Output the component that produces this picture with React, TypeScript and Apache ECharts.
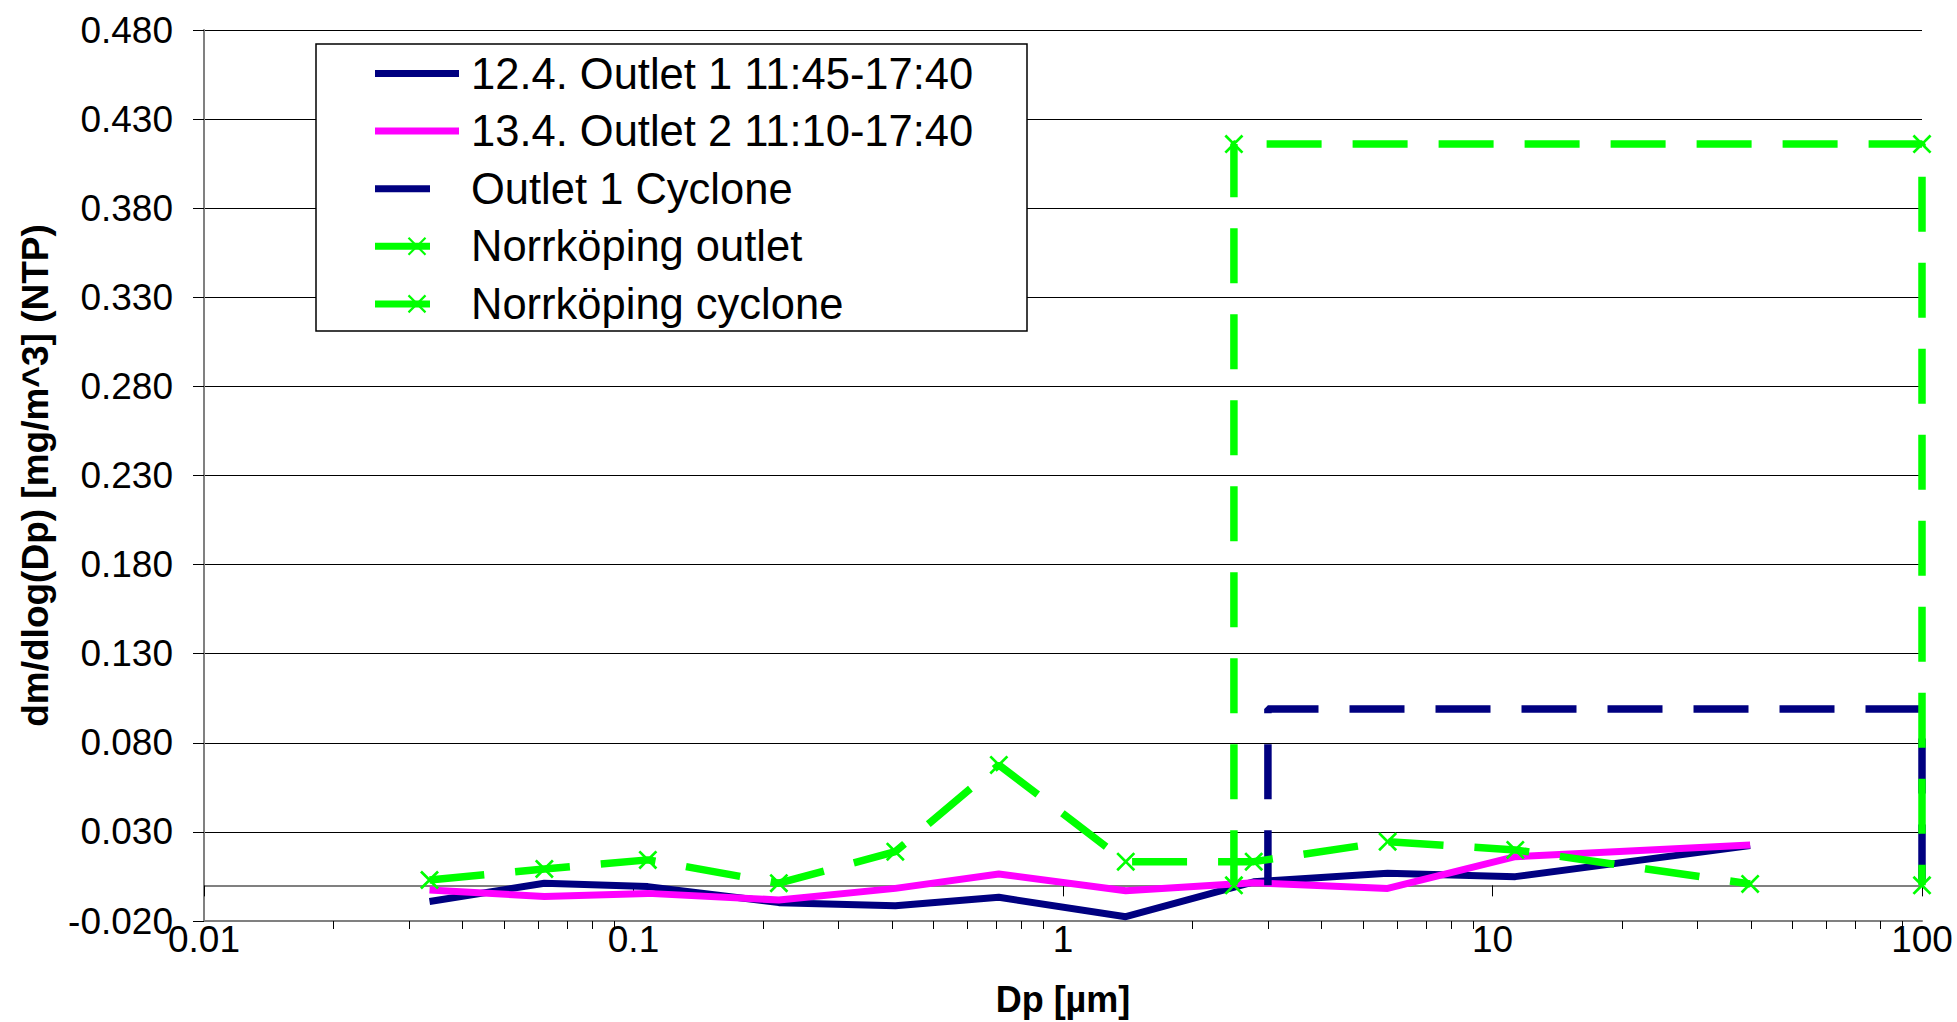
import React, { useEffect, useRef } from "react";
import * as echarts from "echarts";

// ---- Data ----
const DP = [0.0335, 0.062, 0.108, 0.218, 0.407, 0.709, 1.4, 2.78, 5.7, 11.3, 39.8];
const OUTLET1 = [-0.0091, 0.0012, -0.0007, -0.0097, -0.0114, -0.0067, -0.0176, 0.002, 0.0068, 0.0049, 0.0223];
const OUTLET2 = [-0.0026, -0.0063, -0.0045, -0.0082, -0.0017, 0.0064, -0.003, 0.0015, -0.0017, 0.0161, 0.0227];
const NORR_OUTLET = [0.003, 0.0092, 0.0143, 0.0012, 0.0189, 0.0676, 0.0133, 0.0133, 0.0245, 0.0199, 0.0008];
const CYC1_X = [3.0, 3.0, 100, 100];
const CYC1_Y = [0, 0.099, 0.099, 0];
const NORR_CYC_X = [2.5, 2.5, 100, 100];
const NORR_CYC_Y = [0, 0.416, 0.416, 0];

const SERIES_NAMES = [
  "12.4. Outlet 1 11:45-17:40",
  "13.4. Outlet 2 11:10-17:40",
  "Outlet 1 Cyclone",
  "Norrköping outlet",
  "Norrköping cyclone",
];
const X_MAJOR = [0.01, 0.1, 1, 10, 100];
const X_MINOR = [0.02, 0.03, 0.04, 0.05, 0.06, 0.07, 0.08, 0.09, 0.2, 0.3, 0.4, 0.5, 0.6, 0.7, 0.8, 0.9, 2, 3, 4, 5, 6, 7, 8, 9, 20, 30, 40, 50, 60, 70, 80, 90];
const Y_MIN = -0.02;
const Y_MAX = 0.48;
const Y_STEP = 0.05;

const NAVY = "#000080";
const MAGENTA = "#ff00ff";
const GREEN = "#00ff00";
const FONT = "Liberation Sans, Arial, sans-serif";
const XSYM = "path://M0,1L1,0L5,4L9,0L10,1L6,5L10,9L9,10L5,6L1,10L0,9L4,5Z";
const DASH = [55, 31];

const pairs = (xs: number[], ys: number[]) => xs.map((x, i) => [x, ys[i]]);

export default function App() {
  const ref = useRef<HTMLDivElement>(null);
  useEffect(() => {
    document.body.style.margin = "0";
    const chart = echarts.init(ref.current!, null, { renderer: "svg" });

    const legendColors = [NAVY, MAGENTA, NAVY, GREEN, GREEN];
    const legendDash = [null, null, DASH, DASH, DASH];
    const legendMarker = [false, false, false, true, true];
    const lx = 375, lw = 84, tx = 471, ry0 = 73.5, rdy = 57.6;
    const legendEls: any[] = [
      {
        type: "rect",
        shape: { x: 316, y: 44, width: 711, height: 287 },
        style: { fill: "#fff", stroke: "#000", lineWidth: 1.5 },
        z: 100,
      },
    ];
    SERIES_NAMES.forEach((name, i) => {
      const y = ry0 + i * rdy;
      legendEls.push({
        type: "line",
        shape: { x1: lx, y1: y, x2: lx + lw, y2: y },
        style: { stroke: legendColors[i], lineWidth: 7, lineDash: legendDash[i] || undefined },
        z: 101,
      });
      if (legendMarker[i]) {
        const cx = lx + lw / 2, s = 8.5;
        legendEls.push({
          type: "line",
          shape: { x1: cx - s, y1: y - s, x2: cx + s, y2: y + s },
          style: { stroke: GREEN, lineWidth: 2.2 },
          z: 102,
        });
        legendEls.push({
          type: "line",
          shape: { x1: cx - s, y1: y + s, x2: cx + s, y2: y - s },
          style: { stroke: GREEN, lineWidth: 2.2 },
          z: 102,
        });
      }
      legendEls.push({
        type: "text",
        x: tx,
        y: y,
        style: {
          text: name,
          fill: "#000",
          font: `43.5px ${FONT}`,
          textAlign: "left",
          textVerticalAlign: "middle",
        },
        z: 102,
      });
    });

    const fmtX = (v: number) => String(Number(v.toPrecision(6)));

    chart.setOption({
      animation: false,
      backgroundColor: "#fff",
      textStyle: { fontFamily: FONT },
      grid: { left: 204, right: 35, top: 30, bottom: 101, containLabel: false },
      xAxis: [
        {
          type: "log",
          logBase: 10,
          min: 0.01,
          max: 100,
          position: "bottom",
          axisLine: { show: true, onZero: true, lineStyle: { color: "#808080", width: 2 } },
          axisTick: { show: true, inside: false, length: 11, customValues: X_MAJOR, lineStyle: { color: "#000", width: 1 } },
          axisLabel: { show: false },
          splitLine: { show: false },
          minorTick: { show: false },
        },
        {
          type: "log",
          logBase: 10,
          min: 0.01,
          max: 100,
          position: "bottom",
          axisLine: { show: false, onZero: true },
          axisTick: { show: true, inside: false, length: 8, customValues: X_MINOR, lineStyle: { color: "#000", width: 1 } },
          axisLabel: { show: false },
          splitLine: { show: false },
        },
        {
          type: "log",
          logBase: 10,
          min: 0.01,
          max: 100,
          position: "bottom",
          axisLine: { show: true, onZero: false, lineStyle: { color: "#808080", width: 2 } },
          axisTick: { show: false },
          axisLabel: {
            show: true,
            customValues: X_MAJOR,
            formatter: fmtX,
            color: "#000",
            fontSize: 37,
            fontFamily: FONT,
            margin: 0,
            showMinLabel: true,
            showMaxLabel: true,
          },
          splitLine: { show: false },
          name: "Dp [µm]",
          nameLocation: "middle",
          nameGap: 60,
          nameTextStyle: { color: "#000", fontSize: 36, fontWeight: "bold", fontFamily: FONT },
        },
      ],
      yAxis: {
        type: "value",
        min: Y_MIN,
        max: Y_MAX,
        interval: Y_STEP,
        axisLine: { show: true, onZero: false, lineStyle: { color: "#808080", width: 2 } },
        axisTick: { show: true, inside: false, length: 11, lineStyle: { color: "#000", width: 1 } },
        axisLabel: {
          color: "#000",
          fontSize: 37,
          fontFamily: FONT,
          margin: 31,
          formatter: (v: number) => v.toFixed(3),
        },
        splitLine: { show: true, lineStyle: { color: "#000", width: 1 } },
        name: "dm/dlog(Dp) [mg/m^3] (NTP)",
        nameLocation: "middle",
        nameGap: 150,
        nameRotate: 90,
        nameTextStyle: { color: "#000", fontSize: 37, fontWeight: "bold", fontFamily: FONT },
      },
      series: [
        {
          name: SERIES_NAMES[0],
          type: "line",
          xAxisIndex: 0,
          data: pairs(DP, OUTLET1),
          symbol: "none",
          clip: false,
          lineStyle: { color: NAVY, width: 7 },
          itemStyle: { color: NAVY },
        },
        {
          name: SERIES_NAMES[1],
          type: "line",
          xAxisIndex: 0,
          data: pairs(DP, OUTLET2),
          symbol: "none",
          clip: false,
          lineStyle: { color: MAGENTA, width: 7 },
          itemStyle: { color: MAGENTA },
        },
        {
          name: SERIES_NAMES[2],
          type: "line",
          xAxisIndex: 0,
          data: pairs(CYC1_X, CYC1_Y),
          symbol: "none",
          clip: false,
          lineStyle: { color: NAVY, width: 7.5, type: DASH, cap: "butt" },
          itemStyle: { color: NAVY },
        },
        {
          name: SERIES_NAMES[3],
          type: "line",
          xAxisIndex: 0,
          data: pairs(DP, NORR_OUTLET),
          symbol: XSYM,
          symbolSize: 19,
          showSymbol: true,
          clip: false,
          lineStyle: { color: GREEN, width: 7.5, type: DASH, cap: "butt" },
          itemStyle: { color: GREEN },
        },
        {
          name: SERIES_NAMES[4],
          type: "line",
          xAxisIndex: 0,
          data: pairs(NORR_CYC_X, NORR_CYC_Y),
          symbol: XSYM,
          symbolSize: 19,
          showSymbol: true,
          clip: false,
          lineStyle: { color: GREEN, width: 7.5, type: DASH, cap: "butt" },
          itemStyle: { color: GREEN },
        },
      ],
      graphic: { elements: legendEls },
    });
    return () => chart.dispose();
  }, []);
  return (
    <div
      ref={ref}
      style={{ position: "absolute", left: 0, top: 0, width: 1957, height: 1022 }}
    />
  );
}
